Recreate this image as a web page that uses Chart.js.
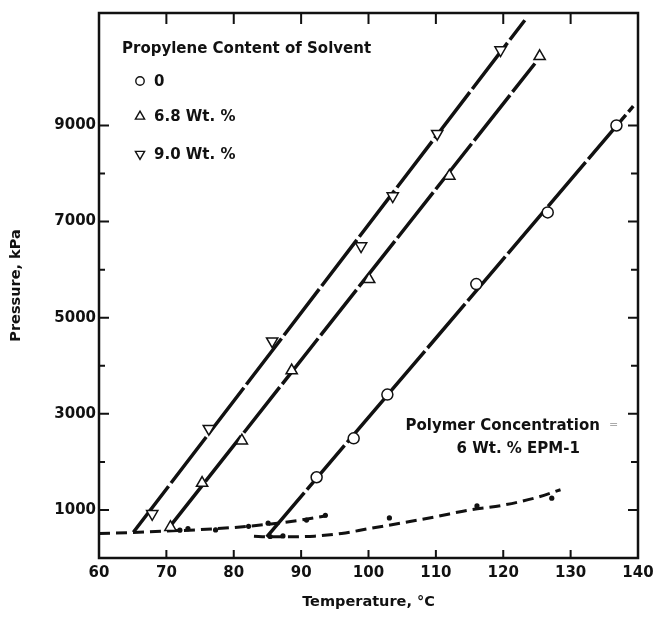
<!DOCTYPE html>
<html>
<head>
<meta charset="utf-8">
<script src="https://cdn.jsdelivr.net/npm/chart.js@4.4.1/dist/chart.umd.min.js"></script>
<style>
  html, body { margin: 0; padding: 0; background: #fff; }
  canvas { display: block; }
</style>
</head>
<body>
<canvas id="c" width="654" height="619"></canvas>
<script>
// Cloud-point pressures by propylene content of the solvent
const circleTemp = [92.3, 97.8, 102.8, 116.0, 126.6, 136.8];
const circlePres = [1680, 2490, 3400, 5700, 7190, 9000];
const upTemp = [70.6, 75.3, 81.2, 88.6, 100.1, 112.0, 125.4];
const upPres = [640, 1560, 2440, 3900, 5800, 7950, 10440];
const downTemp = [67.9, 76.3, 85.7, 98.9, 103.6, 110.2, 119.6];
const downPres = [920, 2690, 4510, 6490, 7530, 8830, 10570];

// Straight-line fits (end points)
const fit0Temp = [84.9, 139.3];
const fit0Pres = [440, 9400];
const fit68Temp = [70.1, 124.7];
const fit68Pres = [580, 10290];
const fit90Temp = [65.1, 123.2];
const fit90Pres = [535, 11190];

// Lower dashed curves and their measured points
const lowATemp = [60, 65, 70, 75, 80, 85, 90, 93.8];
const lowAPres = [510, 530, 560, 590, 635, 700, 790, 880];
const lowBTemp = [83, 85, 88, 92, 96, 100, 105, 110, 115, 120, 125, 128.5];
const lowBPres = [455, 440, 440, 455, 510, 610, 730, 860, 1000, 1100, 1260, 1420];
const dotTemp = [72.0, 73.2, 77.3, 82.2, 85.1, 90.8, 93.6, 85.4, 87.3, 103.1, 116.1, 127.2];
const dotPres = [580, 610, 585, 660, 725, 790, 890, 447, 460, 834, 1084, 1244];

// Axis ticks
const xTicks = [60, 70, 80, 90, 100, 110, 120, 130, 140];
const yLabelTicks = [1000, 3000, 5000, 7000, 9000];
const yMinorTicks = [2000, 4000, 6000, 8000];

const legendTitle = 'Propylene Content of Solvent';
const legendLabels = ['0', '6.8 Wt. %', '9.0 Wt. %'];
const noteLines = ['Polymer Concentration', '6 Wt. % EPM-1'];

const INK = '#111';
const FONT = '"DejaVu Sans", sans-serif';

const pts = (xs, ys) => xs.map((v, i) => ({ x: v, y: ys[i] }));

function markerPath(ctx, kind, x, y, r) {
  ctx.beginPath();
  if (kind === 'circle') {
    ctx.arc(x, y, r, 0, Math.PI * 2);
  } else {
    const s = kind === 'up' ? 1 : -1;
    for (let k = 0; k < 3; k++) {
      const a = -Math.PI / 2 + k * 2 * Math.PI / 3;
      const px = x + Math.cos(a) * r;
      const py = y + s * Math.sin(a) * r;
      if (k === 0) ctx.moveTo(px, py); else ctx.lineTo(px, py);
    }
    ctx.closePath();
  }
}

const decor = {
  id: 'decor',
  afterDatasetsDraw(chart) {
    const { ctx, chartArea: a, scales: { x, y } } = chart;
    ctx.save();
    // frame
    ctx.strokeStyle = INK;
    ctx.lineWidth = 2.5;
    ctx.strokeRect(a.left, a.top, a.right - a.left, a.bottom - a.top);
    // inward tick marks on all four sides
    ctx.lineWidth = 2;
    ctx.beginPath();
    xTicks.slice(1, -1).forEach(v => {
      const px = x.getPixelForValue(v);
      ctx.moveTo(px, a.bottom); ctx.lineTo(px, a.bottom - 8);
      ctx.moveTo(px, a.top); ctx.lineTo(px, a.top + 11);
    });
    yLabelTicks.forEach(v => {
      const py = y.getPixelForValue(v);
      ctx.moveTo(a.left, py); ctx.lineTo(a.left + 10, py);
      ctx.moveTo(a.right, py); ctx.lineTo(a.right - 10, py);
    });
    yMinorTicks.forEach(v => {
      const py = y.getPixelForValue(v);
      ctx.moveTo(a.left, py); ctx.lineTo(a.left + 6, py);
      ctx.moveTo(a.right, py); ctx.lineTo(a.right - 7, py);
    });
    ctx.stroke();

    // legend block
    ctx.fillStyle = INK;
    ctx.font = 'bold 15px ' + FONT;
    ctx.textBaseline = 'middle';
    ctx.textAlign = 'left';
    ctx.fillText(legendTitle, a.left + 23, 49);
    const kinds = ['circle', 'up', 'down'];
    const rows = [81, 116.5, 154];
    kinds.forEach((k, i) => {
      ctx.lineWidth = 1.4;
      markerPath(ctx, k, a.left + 41, rows[i], k === 'circle' ? 4.2 : 5.3);
      ctx.fillStyle = '#fff';
      ctx.fill();
      ctx.stroke();
      ctx.fillStyle = INK;
      ctx.fillText(legendLabels[i], a.left + 55, rows[i] + 1);
    });

    // polymer note
    ctx.fillText(noteLines[0], 405.5, 426);
    ctx.fillText(noteLines[1], 456.5, 449);
    ctx.fillStyle = '#aaa';
    ctx.font = '11px ' + FONT;
    ctx.fillText('=', 609, 425);
    ctx.restore();
  }
};

const markerBase = {
  showLine: false,
  backgroundColor: '#fff',
  borderColor: INK,
  pointBorderWidth: 1.5,
  pointBackgroundColor: '#fff',
  pointBorderColor: INK
};
const fitLine = {
  showLine: true,
  borderColor: INK,
  borderWidth: 3.5,
  borderDash: [58, 4],
  pointRadius: 0,
  fill: false
};
const dashCurve = {
  showLine: true,
  borderColor: INK,
  borderWidth: 3,
  borderDash: [11, 6],
  pointRadius: 0,
  tension: 0.4,
  cubicInterpolationMode: 'monotone',
  fill: false
};

const tickFont = { family: FONT, size: 15, weight: 'bold' };
const titleFont = { family: FONT, size: 14.5, weight: 'bold' };

new Chart(document.getElementById('c'), {
  type: 'scatter',
  data: {
    datasets: [
      Object.assign({ label: '0', data: pts(circleTemp, circlePres), pointStyle: 'circle', pointRadius: 5.5 }, markerBase),
      Object.assign({ label: '6.8 Wt. %', data: pts(upTemp, upPres), pointStyle: 'triangle', pointRadius: 6.5 }, markerBase),
      Object.assign({ label: '9.0 Wt. %', data: pts(downTemp, downPres), pointStyle: 'triangle', pointRotation: 180, pointRadius: 6.5 }, markerBase),
      { label: 'dots', data: pts(dotTemp, dotPres), showLine: false, pointRadius: 2.6, pointBackgroundColor: INK, pointBorderWidth: 0 },
      Object.assign({ label: 'fit 0', data: pts(fit0Temp, fit0Pres) }, fitLine),
      Object.assign({ label: 'fit 6.8', data: pts(fit68Temp, fit68Pres) }, fitLine),
      Object.assign({ label: 'fit 9.0', data: pts(fit90Temp, fit90Pres) }, fitLine),
      Object.assign({ label: 'low A', data: pts(lowATemp, lowAPres) }, dashCurve),
      Object.assign({ label: 'low B', data: pts(lowBTemp, lowBPres) }, dashCurve)
    ]
  },
  options: {
    responsive: false,
    animation: false,
    devicePixelRatio: 1,
    layout: { padding: { top: 13, right: 16, left: 0, bottom: 0 } },
    plugins: { legend: { display: false }, tooltip: { enabled: false } },
    scales: {
      x: {
        type: 'linear',
        min: 60, max: 140,
        grid: { display: false, drawTicks: false },
        border: { display: false },
        afterBuildTicks: s => { s.ticks = xTicks.map(v => ({ value: v })); },
        afterFit: s => { s.height = 61; s.paddingLeft = 0; s.paddingRight = 0; },
        ticks: { autoSkip: false, maxRotation: 0, padding: 6, color: INK, font: tickFont, callback: v => String(v) },
        title: { display: true, text: 'Temperature, °C', color: INK, padding: { top: 0, bottom: 8 }, font: titleFont }
      },
      y: {
        type: 'linear',
        min: 0, max: 11340,
        grid: { display: false, drawTicks: false },
        border: { display: false },
        afterBuildTicks: s => { s.ticks = yLabelTicks.map(v => ({ value: v })); },
        afterFit: s => { s.width = 99; s.paddingTop = 0; s.paddingBottom = 0; },
        ticks: { autoSkip: false, padding: 3, color: INK, font: tickFont, callback: v => String(v) },
        title: { display: true, text: 'Pressure, kPa', color: INK, padding: { top: 8, bottom: 0 }, font: titleFont }
      }
    }
  },
  plugins: [decor]
});
</script>
</body>
</html>
